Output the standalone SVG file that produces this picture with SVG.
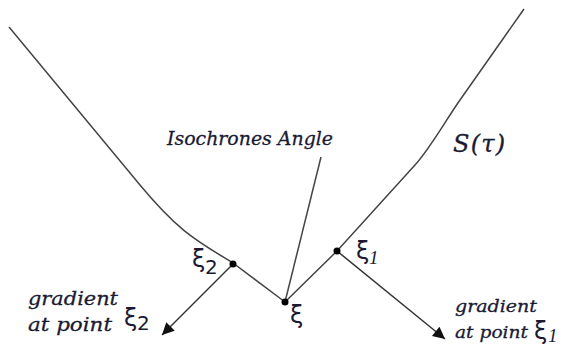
<svg xmlns="http://www.w3.org/2000/svg" width="566" height="345" viewBox="0 0 566 345">
<defs>
<style>
.curve{fill:none;stroke:#444;stroke-width:1.5}
.arr{fill:none;stroke:#333;stroke-width:1.5}
.dot{fill:#000}
.lbl{font-family:"DejaVu Serif",serif;font-style:italic;fill:#1a1a33;stroke:#1a1a33;stroke-width:0.3}
.gr{font-family:"DejaVu Sans",sans-serif;fill:#1a1a33}
.sub{font-family:"DejaVu Sans",sans-serif;fill:#1a1a33}
.subi{font-family:"Liberation Serif",serif;font-style:italic;fill:#1a1a33}
</style>
<marker id="ah" viewBox="0 0 10 10" refX="10" refY="5" markerWidth="15" markerHeight="12" markerUnits="userSpaceOnUse" orient="auto">
<path d="M0,0 L10,5 L0,10 Z" fill="#111"/>
</marker>
</defs>
<rect width="566" height="345" fill="#fff"/>
<g id="connectors">
<path class="curve" d="M9,27 L140,185 C180,233.2 198,241.3 233,263 L285,302"/>
<path class="curve" d="M285,302 L337,251 L415,165 C430,148.5 445,121.4 460,100 L524,9"/>
<line class="curve" x1="285" y1="302" x2="321" y2="157"/>
<line class="arr" x1="233" y1="264" x2="162" y2="335" marker-end="url(#ah)"/>
<line class="arr" x1="337" y1="251" x2="445" y2="339" marker-end="url(#ah)"/>
</g>
<g id="curve-label"><text class="lbl" x="453" y="152" font-size="24" textLength="52" lengthAdjust="spacing">S(τ)</text></g>
<g id="isochrones-angle"><text class="lbl" x="167" y="145" font-size="19" textLength="166" lengthAdjust="spacingAndGlyphs">Isochrones Angle</text></g>
<g id="point-xi2">
<circle class="dot" cx="233" cy="264" r="3.5"/>
<text class="gr" x="192" y="267" font-size="24">ξ</text>
<text class="sub" x="205" y="274" font-size="20">2</text>
</g>
<g id="point-xi">
<circle class="dot" cx="285" cy="302" r="3.5"/>
<text class="gr" x="290" y="323" font-size="24">ξ</text>
</g>
<g id="point-xi1">
<circle class="dot" cx="337" cy="251" r="3.5"/>
<text class="gr" x="356" y="259" font-size="24">ξ</text>
<text class="subi" x="369" y="264" font-size="19">1</text>
</g>
<g id="gradient-xi2">
<text class="lbl" x="28" y="305" font-size="19" textLength="90" lengthAdjust="spacingAndGlyphs">gradient</text>
<text class="lbl" x="28" y="331" font-size="19" textLength="84" lengthAdjust="spacingAndGlyphs">at point</text>
<text class="gr" x="124" y="326" font-size="24">ξ</text>
<text class="sub" x="137" y="330" font-size="20">2</text>
</g>
<g id="gradient-xi1">
<text class="lbl" x="455" y="312" font-size="17.5" textLength="82" lengthAdjust="spacingAndGlyphs">gradient</text>
<text class="lbl" x="455" y="338" font-size="17.5" textLength="73" lengthAdjust="spacingAndGlyphs">at point</text>
<text class="gr" x="534" y="339" font-size="24">ξ</text>
<text class="subi" x="548" y="342" font-size="19">1</text>
</g>
</svg>
